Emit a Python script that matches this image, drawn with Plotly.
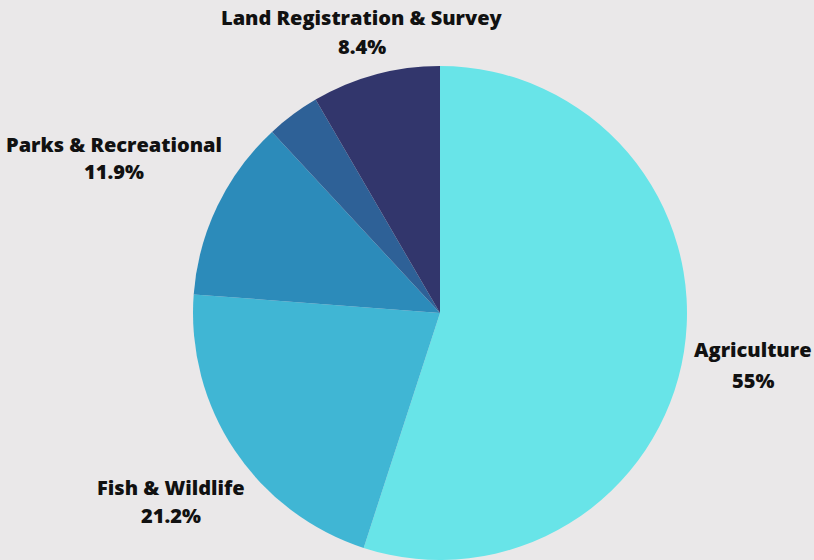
import plotly.graph_objects as go

categories = ["Agriculture", "Fish & Wildlife", "Parks & Recreational", "Other", "Land Registration & Survey"]
values = [55.0, 21.2, 11.9, 3.5, 8.4]
show_label = [True, True, True, False, True]
colors = ["#68E4E8", "#40B6D4", "#2C8BBA", "#2E6197", "#32366C"]

# label positions in pixels (layout only): centre x, name-line y, percent-line y
label_pos = [(753, 349, 380), (171, 487, 515), (114, 145, 171), None, (362, 17, 46)]

W, H = 814, 560
cx, cy, r = 440, 313, 247

fig = go.Figure(go.Pie(
    labels=categories,
    values=values,
    sort=False,
    direction="clockwise",
    rotation=0,
    marker=dict(colors=colors, line=dict(width=0)),
    textinfo="none",
    hoverinfo="label+percent",
    domain=dict(x=[(cx - r) / W, (cx + r) / W], y=[0, 1 - (cy - r) / H]),
    showlegend=False,
))

def fmt(v):
    s = f"{v:.1f}"
    return s[:-2] if s.endswith(".0") else s

font = dict(family="Open Sans", size=20, color="#111111", weight=800)
for cat, v, show, pos in zip(categories, values, show_label, label_pos):
    if not show or pos is None:
        continue
    x, y1, y2 = pos
    for txt, yy in ((cat, y1), (f"{fmt(v)}%", y2)):
        fig.add_annotation(
            x=x / W, y=1 - yy / H, xref="paper", yref="paper",
            xanchor="center", yanchor="middle",
            text=txt, showarrow=False, align="center", font=font,
        )

fig.update_layout(
    width=W, height=H,
    margin=dict(l=0, r=0, t=0, b=0),
    paper_bgcolor="#EAE8E9",
    plot_bgcolor="#EAE8E9",
)
fig.write_html("out.html", config={"displayModeBar": False},
               post_script="document.body.style.margin='0';")
